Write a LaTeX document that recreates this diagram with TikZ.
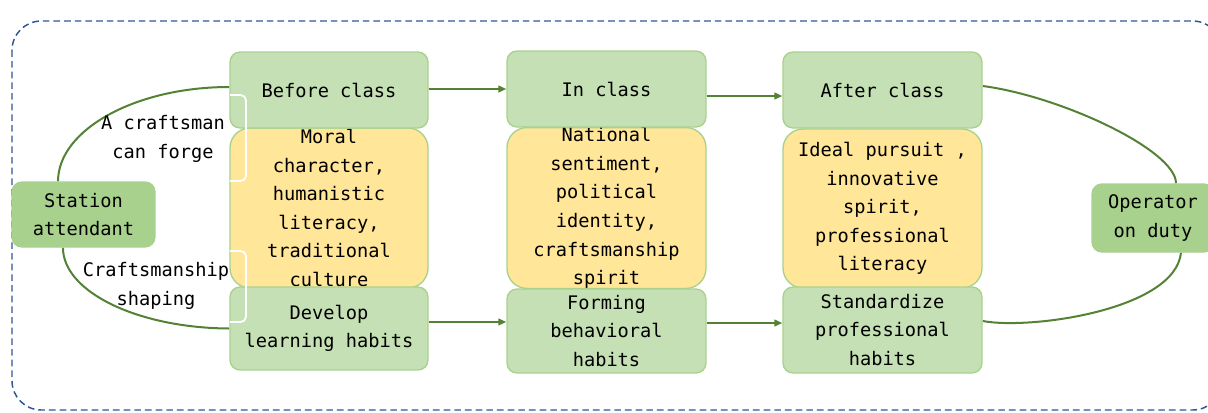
\documentclass[tikz,border=0pt]{standalone}
\usepackage{fontspec}
\setmonofont{DejaVu Sans Mono}
\usetikzlibrary{arrows.meta}
\definecolor{gfill}{HTML}{C5E0B4}
\definecolor{gdraw}{HTML}{A9D18E}
\definecolor{yfill}{HTML}{FFE699}
\definecolor{sfill}{HTML}{A9D18E}
\definecolor{arr}{HTML}{548235}
\definecolor{bord}{HTML}{2F5597}
\pgfdeclarelayer{bg}
\pgfsetlayers{bg,main}
\begin{document}
\begin{tikzpicture}[x=0.75pt,y=-0.75pt,
 txt/.style={font=\ttfamily\fontsize{14}{21.4}\selectfont, align=center, text=black},
 gbox/.style={txt, rectangle, rounded corners=7.5pt, fill=gfill, draw=gdraw, line width=1pt, inner sep=0pt},
 ybox/.style={txt, rectangle, rounded corners=15pt, fill=yfill, draw=gdraw, line width=1pt, inner sep=0pt},
 sbox/.style={gbox, fill=sfill, draw=sfill},
 flow/.style={draw=arr, line width=1.5pt, -{Triangle[length=6pt,width=5pt]}},
 link/.style={draw=arr, line width=1.5pt},
 brk/.style={draw=white, line width=1.3pt, rounded corners=4pt},
]
\useasboundingbox (0,0) rectangle (1208,412);

% yellow content boxes
\node[ybox, minimum width=148.5pt, minimum height=120pt] (y1) at (329,208) {Moral\\character,\\humanistic\\literacy,\\traditional\\culture};
\node[ybox, minimum width=149.25pt, minimum height=120pt] (y2) at (606.5,208) {National\\sentiment,\\political\\identity,\\craftsmanship\\spirit};
\node[ybox, minimum width=149.25pt, minimum height=119.25pt] (y3) at (882.5,208.5) {Ideal pursuit ,\\innovative\\spirit,\\professional\\literacy};

% top stage boxes
\node[gbox, minimum width=148.5pt, minimum height=57pt] (bc) at (329,90) {Before class};
\node[gbox, minimum width=149.25pt, minimum height=57pt] (ic) at (606.5,89) {In class};
\node[gbox, minimum width=149.25pt, minimum height=57pt] (ac) at (882.5,90) {After class};

% bottom habit boxes
\node[gbox, minimum width=148.5pt, minimum height=62.25pt] (dv) at (329,328.5) {Develop\\learning habits};
\node[gbox, minimum width=149.25pt, minimum height=63pt] (fm) at (606.5,331) {Forming\\behavioral\\habits};
\node[gbox, minimum width=149.25pt, minimum height=64.5pt] (sd) at (882.5,330) {Standardize\\professional\\habits};

% side boxes
\node[sbox, minimum width=107.25pt, minimum height=48.75pt] (st) at (83.5,214.5) {Station\\attendant};
\node[sbox, minimum width=91.5pt, minimum height=51pt] (op) at (1153,218) {Operator\\on duty};

\begin{pgfonlayer}{bg}
\draw[bord, line width=1.1pt, dash pattern=on 5pt off 3pt, rounded corners=22pt] (12,21) rectangle (1222,410);
\draw[link] ([yshift=2.25pt]bc.west) .. controls (135,87) and (58,130) .. ([xshift=-19.1pt]st.north);
\draw[link] ([xshift=-15.4pt]st.south) .. controls (63,292) and (138,328) .. (dv.west);
\draw[link] ([yshift=3pt]ac.east) .. controls (1060,96) and (1176,150) .. ([xshift=17.25pt]op.north);
\draw[link] ([yshift=6.75pt]sd.east) .. controls (1030,330) and (1175,310) .. ([xshift=21pt]op.south);
\end{pgfonlayer}

% flow arrows
\draw[flow] ([yshift=0.75pt]bc.east) -- ([yshift=0.75pt]bc.east -| ic.west);
\draw[flow] ([yshift=-5.25pt]ic.east) -- ([yshift=-5.25pt]ic.east -| ac.west);
\draw[flow] ([yshift=4.9pt]dv.east) -- ([yshift=4.9pt]dv.east -| fm.west);
\draw[flow] ([yshift=6pt]fm.east) -- ([yshift=6pt]fm.east -| sd.west);

% white brackets
\draw[brk] (230,95) -- (246,95) -- (246,181) -- (230,181);
\draw[brk] (230,251) -- (246,251) -- (246,322) -- (230,322);

% curve labels
\node[txt] (la) at (163,139) {A craftsman\\can forge};
\node[txt] (lb) at (156,286) {Craftsmanship\\shaping};
\end{tikzpicture}
\end{document}
